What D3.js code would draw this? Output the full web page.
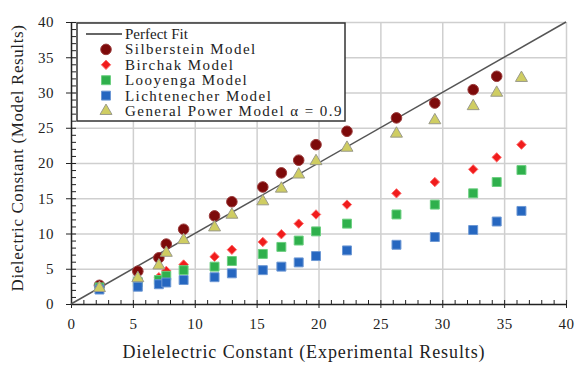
<!DOCTYPE html>
<html>
<head>
<meta charset="utf-8">
<script src="https://cdn.jsdelivr.net/npm/d3@7"></script>
<style>
  html, body { margin: 0; padding: 0; background: #fff; }
  svg { display: block; }
  text { font-family: "Liberation Serif", "DejaVu Serif", serif; fill: #222; }
</style>
</head>
<body>
<svg id="chart" width="587" height="368"></svg>
<script>
// experimental dielectric constant (x) and model results (y)
const experimental = [2.3, 5.4, 7.1, 7.7, 9.1, 11.6, 13.0, 15.5, 17.0, 18.4, 19.8, 22.3, 26.3, 29.4, 32.5, 34.4, 36.4];
const silberstein = [2.65, 4.65, 6.55, 8.5, 10.6, 12.5, 14.5, 16.6, 18.6, 20.4, 22.6, 24.5, 26.4, 28.5, 30.4, 32.3, null];
const birchak = [2.5, 3.5, 3.8, 4.7, 5.6, 6.7, 7.7, 8.8, 9.9, 11.4, 12.7, 14.1, 15.7, 17.3, 19.1, 20.8, 22.6];
const looyenga = [2.35, 3.1, 3.4, 4.0, 4.8, 5.3, 6.1, 7.1, 8.1, 9.0, 10.3, 11.4, 12.7, 14.1, 15.7, 17.3, 19.0];
const lichtenecher = [2.05, 2.45, 2.8, 3.05, 3.4, 3.8, 4.35, 4.8, 5.3, 5.9, 6.8, 7.6, 8.4, 9.5, 10.5, 11.7, 13.2];
const generalPower = [2.4, 3.8, 5.6, 7.4, 9.2, 11.0, 12.8, 14.7, 16.5, 18.5, 20.4, 22.3, 24.3, 26.2, 28.2, 30.1, 32.2];
const perfectFit = [0, 40];
const majorTicks = [0, 5, 10, 15, 20, 25, 30, 35, 40];
const minorTicks = d3.range(0, 41, 1).filter(d => d % 5 !== 0);

const svg = d3.select("#chart");
const margin = { top: 22, right: 21, bottom: 64, left: 71 },
    width = 587 - margin.left - margin.right,
    height = 368 - margin.top - margin.bottom;

const x = d3.scaleLinear().domain([0, 40]).range([0, width]);
const y = d3.scaleLinear().domain([0, 40]).range([height, 0]);

const g = svg.append("g")
    .attr("transform", "translate(" + margin.left + "," + margin.top + ")");

// gridlines
g.append("g")
    .attr("transform", "translate(0," + height + ")")
    .call(d3.axisBottom(x).tickValues(majorTicks.slice(1)).tickSize(-height).tickFormat(""))
    .call(s => s.select(".domain").remove())
    .call(s => s.selectAll("line").attr("stroke", "#cfcfcf").attr("stroke-width", 1.5));
g.append("g")
    .call(d3.axisLeft(y).tickValues(majorTicks.slice(1)).tickSize(-width).tickFormat(""))
    .call(s => s.select(".domain").remove())
    .call(s => s.selectAll("line").attr("stroke", "#cfcfcf").attr("stroke-width", 1.5));

// minor ticks (inside)
g.append("g")
    .attr("transform", "translate(0," + height + ")")
    .call(d3.axisTop(x).tickValues(minorTicks).tickSize(4).tickFormat(""))
    .call(s => s.select(".domain").remove())
    .call(s => s.selectAll("line").attr("stroke", "#222"));
g.append("g")
    .call(d3.axisRight(y).tickValues(minorTicks).tickSize(5).tickFormat(""))
    .call(s => s.select(".domain").remove())
    .call(s => s.selectAll("line").attr("stroke", "#222"));

// major ticks crossing the axes
const xAxis = g.append("g")
    .attr("transform", "translate(0," + height + ")")
    .call(d3.axisBottom(x).tickValues(majorTicks).tickSize(4).tickSizeOuter(0).tickPadding(10));
xAxis.selectAll(".tick line").attr("y1", -4).attr("stroke", "#222");
xAxis.select(".domain").attr("stroke", "#222").attr("stroke-width", 1.5);
xAxis.selectAll("text").style("font-family", "Liberation Serif").style("font-size", "15px")
    .style("letter-spacing", "0.5px").attr("fill", "#222");

const yAxis = g.append("g")
    .call(d3.axisLeft(y).tickValues(majorTicks).tickSize(5).tickSizeOuter(0).tickPadding(12));
yAxis.selectAll(".tick line").attr("x1", 5).attr("x2", -5).attr("stroke", "#222");
yAxis.select(".domain").attr("stroke", "#222").attr("stroke-width", 1.5);
yAxis.selectAll("text").style("font-family", "Liberation Serif").style("font-size", "15px")
    .style("letter-spacing", "0.5px").attr("fill", "#222");

// perfect fit line
g.append("line")
    .attr("x1", x(perfectFit[0])).attr("y1", y(perfectFit[0]))
    .attr("x2", x(perfectFit[1])).attr("y2", y(perfectFit[1]))
    .attr("stroke", "#555").attr("stroke-width", 1.5);

const pts = ys => experimental.map((d, i) => [d, ys[i]]).filter(d => d[1] != null);

const sym = {
    circle: d3.symbol().type(d3.symbolCircle).size(88),
    diamond: d3.symbol().type(d3.symbolDiamond2).size(56),
    square: d3.symbol().type(d3.symbolSquare).size(80),
    triangle: d3.symbol().type(d3.symbolTriangle).size(62)
};

const series = [
    { name: "Silberstein Model", values: silberstein, shape: "circle", fill: "#7d0a0a", stroke: "#9b3b3b" },
    { name: "Birchak Model", values: birchak, shape: "diamond", fill: "#f01c1c", stroke: "#ff6a6a" },
    { name: "Looyenga Model", values: looyenga, shape: "square", fill: "#2fb04c", stroke: "#6ccf80" },
    { name: "Lichtenecher Model", values: lichtenecher, shape: "square", fill: "#2667c0", stroke: "#6d98d4" },
    { name: "General Power Model \u03b1 = 0.9", values: generalPower, shape: "triangle", fill: "#cfcd62", stroke: "#9a9a8a" }
];

series.forEach(s => {
    g.append("g").selectAll("path")
        .data(pts(s.values))
        .enter()
        .append("path")
        .attr("d", sym[s.shape])
        .attr("transform", d => "translate(" + x(d[0]) + "," + (y(d[1]) + (s.shape === "triangle" ? 1 : 0)) + ")")
        .attr("fill", s.fill)
        .attr("stroke", s.stroke)
        .attr("stroke-width", 1);
});

// legend
const legend = svg.append("g").attr("transform", "translate(77,23)");
legend.append("rect")
    .attr("width", 268).attr("height", 98)
    .attr("fill", "#fff").attr("stroke", "#333").attr("stroke-width", 1.5);
const rowY = i => 11 + i * 15.4;
legend.append("line")
    .attr("x1", 9).attr("x2", 45).attr("y1", rowY(0)).attr("y2", rowY(0))
    .attr("stroke", "#333").attr("stroke-width", 1.5);
legend.append("text")
    .attr("x", 48).attr("y", rowY(0) + 5)
    .style("font-size", "15px")
    .text("Perfect Fit");
series.forEach((s, i) => {
    legend.append("path")
        .attr("d", sym[s.shape])
        .attr("transform", "translate(29," + rowY(i + 1) + ")")
        .attr("fill", s.fill).attr("stroke", s.stroke);
    legend.append("text")
        .attr("x", 48).attr("y", rowY(i + 1) + 5)
        .style("font-size", "15px")
        .style("letter-spacing", "1.45px")
        .text(s.name);
});

// axis titles
svg.append("text")
    .attr("x", 304).attr("y", 358)
    .attr("text-anchor", "middle")
    .style("font-size", "18px")
    .style("letter-spacing", "0.9px")
    .text("Dielelectric Constant (Experimental Results)");
svg.append("text")
    .attr("transform", "translate(23,158) rotate(-90)")
    .attr("text-anchor", "middle")
    .style("font-size", "17px")
    .style("letter-spacing", "0.6px")
    .text("Dielectric Constant (Model Results)");
</script>
</body>
</html>
